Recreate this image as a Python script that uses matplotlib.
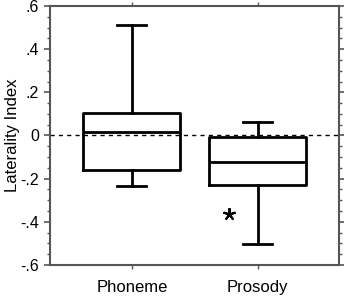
import matplotlib
matplotlib.use("Agg")
import matplotlib.pyplot as plt
from matplotlib.ticker import MultipleLocator

plt.rcParams['font.family'] = ['Liberation Sans', 'DejaVu Sans']

categories = ["Phoneme", "Prosody"]
whisker_low = [-0.236, -0.505]
q1 = [-0.160, -0.230]
median = [0.014, -0.125]
q3 = [0.102, -0.005]
whisker_high = [0.514, 0.062]
outlier_value = -0.366
outlier_category = 1
ytick_vals = [-0.6, -0.4, -0.2, 0.0, 0.2, 0.4, 0.6]
ytick_labels = ["-.6", "-.4", "-.2", "0", ".2", ".4", ".6"]

fig = plt.figure(figsize=(3.44, 3.01), dpi=100)
ax = fig.add_axes([0.145, 0.120, 0.840, 0.860])

positions = [1, 2]
stats = []
for i, name in enumerate(categories):
    stats.append(dict(label=name, whislo=whisker_low[i], q1=q1[i], med=median[i],
                      q3=q3[i], whishi=whisker_high[i], fliers=[]))

lw = 2.0
ax.bxp(stats, positions=positions, widths=0.77, showfliers=False, capwidths=0.23,
       boxprops=dict(color='black', linewidth=lw),
       medianprops=dict(color='black', linewidth=lw),
       whiskerprops=dict(color='black', linewidth=lw),
       capprops=dict(color='black', linewidth=lw))

ax.axhline(0, color='black', linestyle=(0, (3, 3)), linewidth=1.0, zorder=0)

ax.plot([positions[outlier_category] - 0.23], [outlier_value], marker=(5, 2, 0),
        ms=9, mew=1.5, color='black', linestyle='none')

ax.set_xlim(0.349, 2.643)
ax.set_ylim(-0.6, 0.6)
ax.set_yticks(ytick_vals)
ax.set_yticklabels(ytick_labels)
ax.yaxis.set_minor_locator(MultipleLocator(0.05))
ax.set_xticks(positions)
ax.set_xticklabels(categories)
ax.set_ylabel("Laterality Index", fontsize=12)
ax.yaxis.label.set_va('center')
ax.yaxis.set_label_coords(-0.131, 0.5)

for s in ax.spines.values():
    s.set_color('#555555')
    s.set_linewidth(1.5)

ax.tick_params(axis='y', which='both', direction='out', left=True, right=True,
               color='#555555', labelsize=11.5, pad=4)
ax.tick_params(axis='y', which='major', length=4, width=1.2)
ax.tick_params(axis='y', which='minor', length=2.5, width=1.0)
ax.tick_params(axis='x', which='major', direction='out', top=True, bottom=True,
               length=3, width=1.0, color='#555555', labelsize=12, pad=8)

fig.savefig("out.png", dpi=100)
